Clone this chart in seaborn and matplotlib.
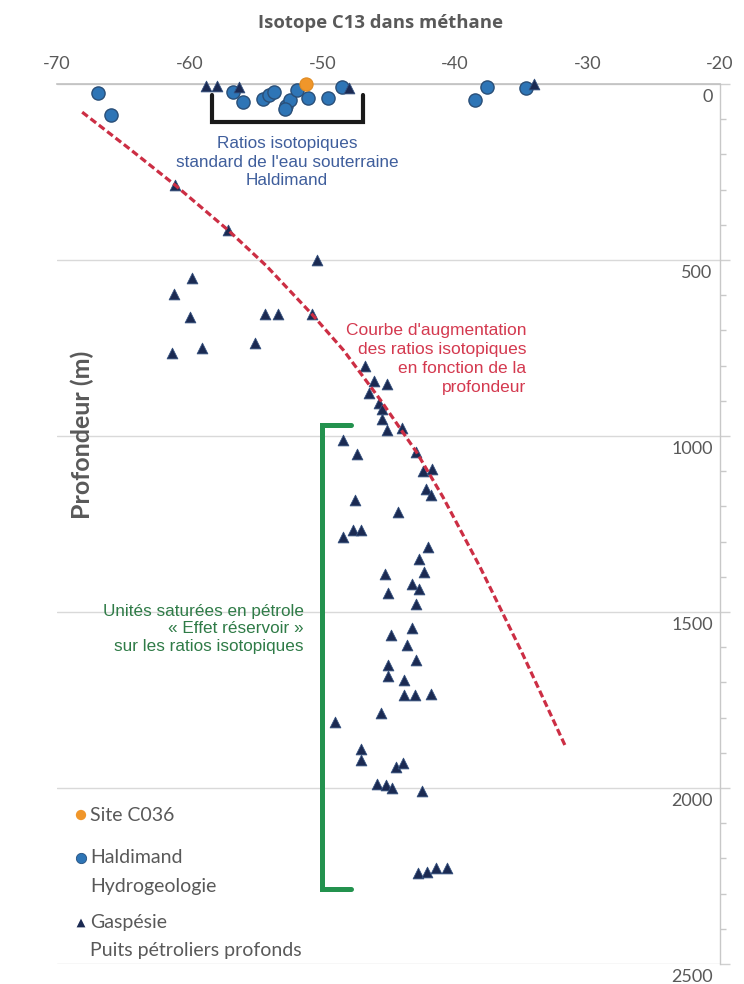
import numpy as np
import pandas as pd
import matplotlib
matplotlib.use("Agg")
import matplotlib.pyplot as plt
import matplotlib.transforms as mtransforms
import seaborn as sns

# ---------------- data ----------------
site_x = [-51.2]
site_depth = [0]

haldimand_x = [-66.9, -65.9, -56.7, -56.0, -54.5, -54.0, -53.6, -52.7, -52.4,
               -51.9, -51.1, -49.6, -48.5, -38.5, -37.6, -34.6, -52.8]
haldimand_depth = [26, 88, 23, 51, 43, 31, 23, 62, 45,
                   17, 40, 40, 9, 45, 9, 11, 70]

gaspesie_x = [-58.8, -57.9, -56.3, -48.0, -34.0,
              -61.1, -57.1, -50.4, -59.8, -61.2, -60.0, -54.3, -53.3, -50.8,
              -55.1, -61.3, -59.1, -46.8, -46.1, -45.1, -46.5, -45.7, -45.5,
              -45.5, -45.1, -44.0, -48.4, -47.4, -42.9, -42.4, -41.7, -42.2,
              -41.8, -47.5, -44.3, -47.7, -47.1, -48.4, -42.0, -42.7, -42.3,
              -45.3, -43.2, -42.7, -45.0, -42.9, -43.2, -44.8, -43.6, -42.9,
              -45.0, -45.0, -43.8, -43.8, -43.0, -41.8, -45.6, -49.0, -47.1,
              -47.1, -44.4, -43.9, -45.9, -45.2, -44.7, -42.5,
              -42.8, -42.1, -41.4, -40.6]
gaspesie_depth = [6, 6, 9, 11, 0,
                  287, 415, 500, 551, 597, 662, 653, 653, 653,
                  736, 764, 750, 801, 844, 852, 878, 906, 923,
                  952, 983, 977, 1011, 1051, 1045, 1099, 1094, 1151,
                  1168, 1182, 1216, 1267, 1267, 1287, 1315, 1349, 1386,
                  1392, 1420, 1435, 1446, 1477, 1545, 1565, 1594, 1636,
                  1651, 1682, 1693, 1736, 1736, 1733, 1787, 1813, 1889,
                  1920, 1940, 1929, 1989, 1991, 2000, 2009,
                  2241, 2239, 2227, 2227]

curve_x = [-68.1, -64.5, -61.1, -57.1, -54.2, -50.8, -48.4, -45.6, -42.9, -40.9, -38.1, -35.0, -31.7]
curve_depth = [80, 185, 287, 415, 517, 653, 756, 898, 1045, 1173, 1372, 1610, 1878]

x_ticks = [-70, -60, -50, -40, -30, -20]
y_ticks = [0, 500, 1000, 1500, 2000, 2500]

legend_labels = ["Site C036", "Haldimand", "Hydrogeologie", "Gaspésie", "Puits pétroliers profonds"]

# ---------------- style ----------------
sns.set_theme(style="white")
plt.rcParams["font.family"] = ["Lato", "DejaVu Sans"]

GRAY_TXT = "#595959"
ORANGE = "#F0962A"
BLUE = "#2E75B6"
NAVY = "#1B2A52"
RED = "#CC2E44"
GREEN = "#23924E"
ARIAL = ["Liberation Sans", "DejaVu Sans"]

fig = plt.figure(figsize=(7.44, 9.84), dpi=100)
ax = fig.add_axes([0.07661, 0.02033, 0.89113, 0.89430])

df_g = pd.DataFrame({"x": gaspesie_x, "d": gaspesie_depth})
df_h = pd.DataFrame({"x": haldimand_x, "d": haldimand_depth})
df_s = pd.DataFrame({"x": site_x, "d": site_depth})
df_c = pd.DataFrame({"x": curve_x, "d": curve_depth})

sns.scatterplot(data=df_h, x="x", y="d", ax=ax, marker="o", s=90,
                color=BLUE, edgecolor="#2A4F78", linewidth=1.0, zorder=3, clip_on=False)
sns.scatterplot(data=df_s, x="x", y="d", ax=ax, marker="o", s=90,
                color=ORANGE, edgecolor="#E08A20", linewidth=0.8, zorder=4, clip_on=False)
sns.scatterplot(data=df_g, x="x", y="d", ax=ax, marker="^", s=60,
                color=NAVY, edgecolor="#34507E", linewidth=0.6, zorder=3, clip_on=False)
sns.lineplot(data=df_c, x="x", y="d", ax=ax, sort=False, estimator=None,
             color=RED, linewidth=2.3, zorder=5)
ax.lines[-1].set_dashes((2.2, 1.1))

ax.set_xlim(-70, -20)
ax.set_ylim(2500, 0)

# axes cosmetics
ax.xaxis.set_ticks_position("top")
ax.set_xticks(x_ticks)
ax.set_xticklabels([str(v) for v in x_ticks])
ax.tick_params(axis="x", length=0, pad=9, labelsize=13, labelcolor=GRAY_TXT)

ax.yaxis.set_ticks_position("right")
ax.set_yticks(y_ticks)
ax.set_yticklabels([str(v) for v in y_ticks])
ax.set_yticks(np.arange(0, 2501, 100), minor=True)
ax.tick_params(axis="y", which="major", length=7, width=1, color="#D0D0D0",
               labelsize=13, labelcolor=GRAY_TXT, pad=0)
ax.tick_params(axis="y", which="minor", length=4, width=1, color="#C8C8C8", direction="out")
offset = mtransforms.ScaledTranslation(-0.17, -0.115, fig.dpi_scale_trans)
for lab in ax.get_yticklabels():
    lab.set_horizontalalignment("right")
    lab.set_transform(lab.get_transform() + offset)

ax.grid(False)
ax.yaxis.grid(True, which="major", color="#D9D9D9", linewidth=1.0)
for side in ["left", "bottom"]:
    ax.spines[side].set_visible(False)
ax.spines["top"].set_color("#C0C0C0")
ax.spines["top"].set_linewidth(1.2)
ax.spines["right"].set_color("#C8C8C8")
ax.spines["right"].set_linewidth(1.0)
ax.set_xlabel("")
ax.set_ylabel("")

# ---------------- annotations ----------------
ax.plot([-58.3, -58.3, -46.9, -46.9], [31, 108, 108, 31], color="#1A1A1A",
        linewidth=3.0, solid_joinstyle="miter", zorder=2)
ax.text(-52.65, 222, "Ratios isotopiques\nstandard de l'eau souterraine\nHaldimand",
        ha="center", va="center", color="#3F5E9C", fontsize=12.3,
        family=ARIAL, linespacing=1.3)

ax.text(-34.6, 780, "Courbe d'augmentation\ndes ratios isotopiques\nen fonction de la\nprofondeur",
        ha="right", va="center", color="#D4394F", fontsize=12.5,
        family=ARIAL, linespacing=1.33)

ax.plot([-47.8, -50.0, -50.0, -47.8], [969, 969, 2287, 2287], color=GREEN,
        linewidth=3.6, solid_joinstyle="miter", zorder=2)
ax.text(-51.4, 1548, "Unités saturées en pétrole\n« Effet réservoir »\nsur les ratios isotopiques",
        ha="right", va="center", color="#2F7B47", fontsize=12.3,
        family=ARIAL, linespacing=1.2)

# titles
fig.text(381 / 744, 1 - 23 / 984, "Isotope C13 dans méthane", ha="center", va="center",
         fontsize=13.3, fontweight="bold", color=GRAY_TXT,
         family=["Open Sans", "DejaVu Sans"])
fig.text(82 / 744, 1 - 435 / 984, "Profondeur (m)", ha="center", va="center",
         rotation=90, fontsize=18, fontweight="bold", color=GRAY_TXT)

# ---------------- legend (manual, Excel-like) ----------------
mx = 0.0362
tx = 0.0498
ax.scatter([mx], [0.1693], transform=ax.transAxes, s=55, color=ORANGE, marker="o",
           edgecolor="none", clip_on=False, zorder=6)
ax.scatter([mx], [0.1205], transform=ax.transAxes, s=55, color=BLUE, marker="o",
           edgecolor="#24507F", linewidth=0.6, clip_on=False, zorder=6)
ax.scatter([mx], [0.0466], transform=ax.transAxes, s=40, color=NAVY, marker="^",
           edgecolor="none", clip_on=False, zorder=6)
legend_y = [0.1693, 0.1205, 0.0875, 0.0466, 0.0148]
for lab, yy in zip(legend_labels, legend_y):
    ax.text(tx, yy, lab, transform=ax.transAxes, ha="left", va="center",
            fontsize=14, color=GRAY_TXT)

fig.savefig("out.png", dpi=100, facecolor="white")
